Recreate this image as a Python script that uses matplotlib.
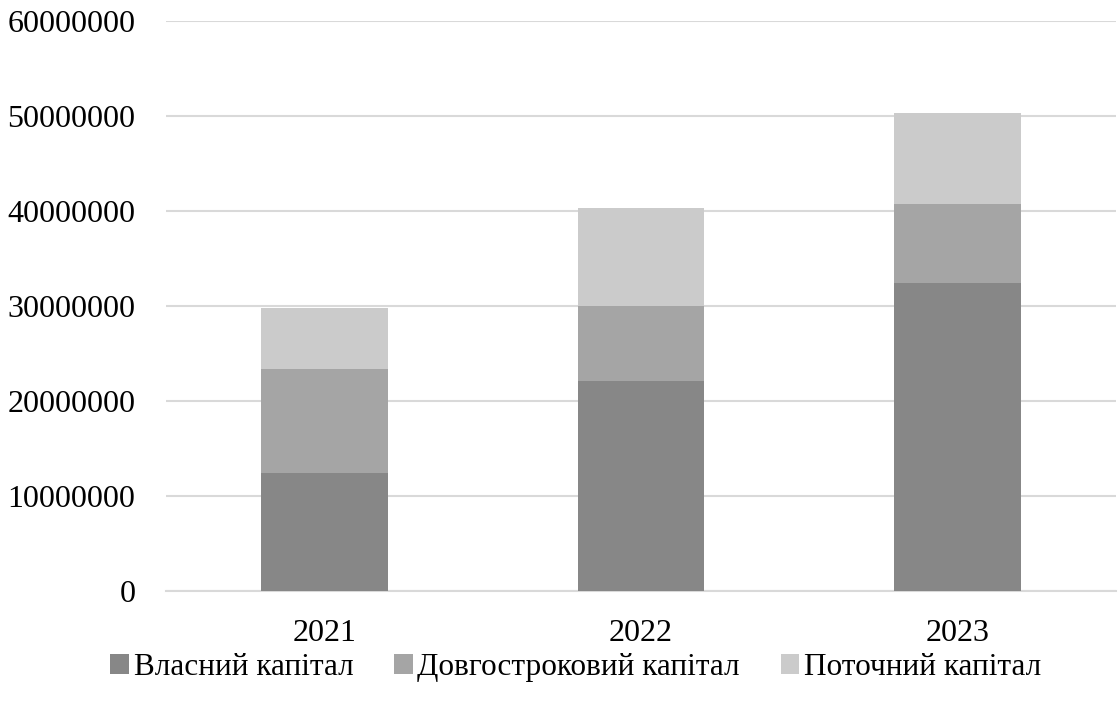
import numpy as np
import matplotlib
matplotlib.use('Agg')
from matplotlib import pyplot as plt

years = ['2021', '2022', '2023']
own_capital = [12450000, 22070000, 32450000]
long_term = [10920000, 7960000, 8350000]
current = [6430000, 10320000, 9550000]
series_names = ['Власний капітал', 'Довгостроковий капітал', 'Поточний капітал']
colors = ['#878787', '#a5a5a5', '#cbcbcb']

plt.rcParams['font.family'] = ['Liberation Serif', 'DejaVu Serif']

fig = plt.figure(figsize=(11.18, 7.07), dpi=100)
ax = fig.add_axes([0.1485, 0.164, 0.8497, 0.806])

x = np.arange(len(years))
bottom = np.zeros(len(years))
for vals, name, c in zip([own_capital, long_term, current], series_names, colors):
  ax.bar(x, vals, width=0.4, bottom=bottom, color=c, label=name, zorder=3)
  bottom += np.array(vals)

ax.set_xlim(-0.5, 2.5)
ax.set_ylim(0, 60000000)
ax.set_yticks(range(0, 60000001, 10000000))
ax.set_yticklabels([str(v) for v in range(0, 60000001, 10000000)])
ax.set_xticks(x)
ax.set_xticklabels(years)
ax.yaxis.grid(True, color='#d9d9d9', linewidth=1.5, zorder=0)
for side in ['top', 'right', 'left']:
  ax.spines[side].set_visible(False)
ax.spines['bottom'].set_color('#d9d9d9')
ax.spines['bottom'].set_linewidth(1.5)
ax.tick_params(axis='both', length=0, labelsize=23, colors='black')
ax.tick_params(axis='y', pad=22)
ax.tick_params(axis='x', pad=20)

fig.legend(loc='lower center', bbox_to_anchor=(0.515, -0.004), ncol=3, frameon=False,
           fontsize=22.5, handlelength=0.6, handleheight=0.6, handletextpad=0.15,
           columnspacing=1.3)

fig.savefig('out.png', dpi=100)
